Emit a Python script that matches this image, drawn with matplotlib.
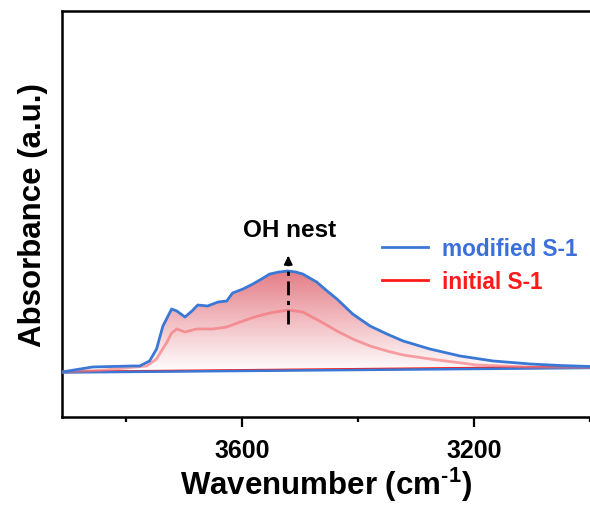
import numpy as np
import matplotlib.pyplot as plt
from matplotlib.colors import LinearSegmentedColormap
from matplotlib.lines import Line2D
from matplotlib.ticker import MultipleLocator

plt.rcParams['font.family'] = ['Liberation Sans', 'DejaVu Sans']
plt.rcParams['font.weight'] = 'bold'
plt.rcParams['mathtext.fontset'] = 'custom'
plt.rcParams['mathtext.rm'] = 'Liberation Sans:bold'
plt.rcParams['mathtext.bf'] = 'Liberation Sans:bold'
plt.rcParams['mathtext.default'] = 'bf'

# spectra (wavenumber in cm-1, absorbance in a.u.)
wn_mod = [3910, 3857, 3788, 3776, 3759, 3747, 3736, 3721, 3712, 3698, 3686,
          3676, 3659, 3641, 3626, 3616, 3598, 3581, 3566, 3552, 3536, 3521,
          3507, 3495, 3483, 3471, 3453, 3436, 3409, 3379, 3350, 3322, 3276,
          3224, 3167, 3103, 3052, 3000]
abs_mod = [0.00, 0.05, 0.06, 0.06, 0.11, 0.23, 0.46, 0.63, 0.61, 0.55, 0.61,
           0.67, 0.66, 0.70, 0.71, 0.79, 0.83, 0.88, 0.93, 0.98, 1.00, 1.01,
           1.00, 0.98, 0.94, 0.90, 0.81, 0.73, 0.58, 0.46, 0.38, 0.31, 0.23,
           0.16, 0.11, 0.08, 0.065, 0.055]

wn_ini = [3910, 3845, 3764, 3747, 3729, 3721, 3712, 3698, 3678, 3650, 3626,
          3603, 3578, 3552, 3521, 3495, 3466, 3436, 3409, 3379, 3350, 3322,
          3276, 3195, 3109, 3000]
abs_ini = [0.00, 0.015, 0.06, 0.13, 0.30, 0.39, 0.43, 0.40, 0.43, 0.43, 0.45,
           0.50, 0.55, 0.59, 0.62, 0.60, 0.51, 0.41, 0.33, 0.26, 0.21, 0.17,
           0.13, 0.07, 0.05, 0.045]

base_wn = [3910, 3000]
base_mod = [-0.005, 0.04]
base_ini = [0.0, 0.05]

labels = ['modified S-1', 'initial S-1']

blue = '#3a78d6'
blue_txt = '#3b6fd9'
red = '#ff1a1a'

fig = plt.figure(figsize=(5.9, 5.06), dpi=100)
ax = fig.add_axes([0.105, 0.174, 0.895, 0.802])

# gradient fill under the modified curve
wm = np.array(wn_mod)
am = np.array(abs_mod)
bm = np.interp(wm, base_wn[::-1], base_ini[::-1])
poly = ax.fill_between(wm, am, bm, color='none', lw=0)
cmap = LinearSegmentedColormap.from_list('pk', ['#ffffff', '#e47c86'])
grad = np.linspace(0, 1, 256).reshape(-1, 1)
img = ax.imshow(grad, cmap=cmap, aspect='auto', origin='lower',
                extent=[3910, 3000, 0.0, 1.02], zorder=1)
img.set_clip_path(poly.get_paths()[0], transform=ax.transData)

ax.plot(base_wn, base_ini, color=red, lw=1.8, zorder=3)
ax.plot(base_wn, base_mod, color=blue, lw=1.8, zorder=3)
ax.plot(wn_ini, abs_ini, color='#f56a6e', alpha=0.6, lw=2.0, zorder=3,
        solid_joinstyle='round')
ax.plot(wn_mod, abs_mod, color=blue, lw=2.0, zorder=4,
        solid_joinstyle='round')

# OH nest arrow
ax.plot([3520, 3520], [0.48, 1.12], color='k', lw=2, ls=(0, (5, 2, 1.5, 2)),
        zorder=5)
ax.annotate('', xy=(3520, 1.19), xytext=(3520, 1.10),
            arrowprops=dict(arrowstyle='-|>', color='k', lw=1.5,
                            mutation_scale=12), zorder=5)
ax.text(3517, 1.43, 'OH nest', ha='center', va='center', fontsize=17.5,
        fontweight='bold')

handles = [Line2D([], [], color=blue, lw=2.0), Line2D([], [], color=red, lw=2.0)]
leg = ax.legend(handles, labels, loc='upper left',
                bbox_to_anchor=(382 / 590, 1 - 238 / 506),
                bbox_transform=fig.transFigure, frameon=False, fontsize=16.3,
                handlelength=2.03, handletextpad=0.62, labelspacing=0.42,
                borderaxespad=0, borderpad=0)
for t, c in zip(leg.get_texts(), [blue_txt, red]):
    t.set_color(c)
    t.set_fontweight('bold')

ax.set_xlim(3910, 3000)
ax.set_ylim(-0.45, 3.61)
ax.xaxis.set_major_locator(MultipleLocator(400))
ax.xaxis.set_minor_locator(MultipleLocator(200))
ax.set_yticks([])
ax.tick_params(axis='x', which='both', direction='out', width=1.6,
               labelsize=18, pad=8)
ax.tick_params(axis='x', which='major', length=7)
ax.tick_params(axis='x', which='minor', length=3.5)
for lbl in ax.get_xticklabels():
    lbl.set_fontweight('bold')
for s in ['left', 'top', 'bottom']:
    ax.spines[s].set_linewidth(1.8)
ax.spines['right'].set_visible(False)

ax.set_xlabel(r'Wavenumber (cm$^{\text{-1}}$)', fontsize=22.5,
              fontweight='bold', labelpad=2)
ax.set_ylabel('Absorbance (a.u.)', fontsize=22.5, fontweight='bold',
              labelpad=10)

fig.savefig('out.png', dpi=100)
